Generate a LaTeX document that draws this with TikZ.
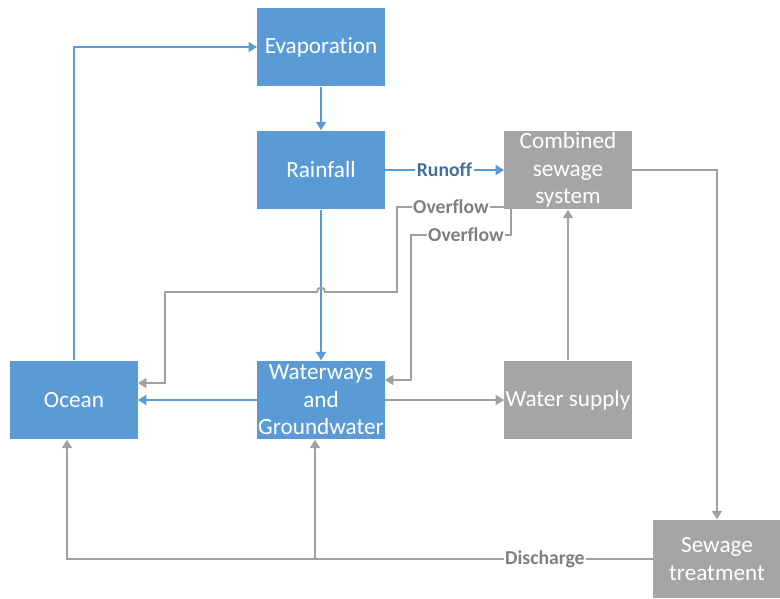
\documentclass[tikz,border=0pt]{standalone}
\usepackage{fontspec}
\setmainfont{Carlito}[Ligatures=NoCommon]
\usetikzlibrary{arrows.meta}

\definecolor{flowblue}{HTML}{5B9BD5}
\definecolor{flowgrey}{HTML}{A5A5A5}
\definecolor{linegrey}{HTML}{A0A0A0}
\definecolor{labelgrey}{HTML}{7F7F7F}
\definecolor{runoffblue}{HTML}{41719C}

\tikzset{
	box/.style={minimum width=3.18cm, minimum height=1.97cm, inner sep=0pt,
		align=center, text=white, font=\fontsize{16.5}{19.5}\selectfont},
	bluebox/.style={box, fill=flowblue},
	greybox/.style={box, fill=flowgrey},
	blueline/.style={draw=flowblue, line width=1.3pt, -{Triangle[length=6pt,width=7pt]}},
	greyline/.style={draw=linegrey, line width=1.3pt, -{Triangle[length=6pt,width=7pt]}},
	flowlabel/.style={fill=white, inner sep=1pt, text=labelgrey, font=\fontsize{14}{16}\selectfont\bfseries},
	runofflabel/.style={flowlabel, text=runoffblue}
}

\begin{document}
\begin{tikzpicture}[x=0.025cm, y=-0.025cm]
	\useasboundingbox (0,0) rectangle (780,598);

	\node[bluebox] (evap) at (321,47) {Evaporation};
	\node[bluebox] (rain) at (321,170) {Rainfall};
	\node[greybox] (sewer) at (568,170) {Combined\\sewage\\system};
	\node[bluebox] (ocean) at (74,400) {Ocean};
	\node[bluebox] (water) at (321,400) {Waterways\\and\\Groundwater};
	\node[greybox] (supply) at (568,400) {Water supply};
	\node[greybox] (treat) at (717,559) {Sewage\\treatment};

	% blue water cycle
	\draw[blueline] (ocean.north) |- (evap.west);
	\draw[blueline] (evap) -- (rain);
	\draw[blueline] (rain) -- node[runofflabel]{Runoff} (sewer);
	\draw[blueline] (rain) -- (water);
	\draw[blueline] (water) -- (ocean);

	% grey sewage paths
	\draw[greyline] (water) -- (supply);
	\draw[greyline] (supply) -- (sewer);
	\draw[greyline] (sewer.east) -| (treat.north);

	% overflows
	\coordinate (ovA) at (505,207);
	\coordinate (ovB) at (511,209);
	\draw[greyline] (ovA) -- node[flowlabel]{Overflow} (397,207) -- (397,292)
		-- (325,292) .. controls (325,286) and (317,286) .. (317,292)
		-- (165,292) -- (165,383) -- (ocean.east |- 0,383);
	\draw[greyline] (ovB) -- (511,235) -- node[flowlabel, pos=0.45]{Overflow} (411,235)
		-- (411,380) -- (water.east |- 0,380);

	% discharge
	\coordinate (disO) at (67,559);
	\coordinate (disW) at (315,559);
	\draw[greyline] (treat.west) -- node[flowlabel, pos=0.32]{Discharge} (disW) -- (disO)
		-- (disO |- ocean.south);
	\draw[greyline] (disW) -- (disW |- water.south);
\end{tikzpicture}
\end{document}
